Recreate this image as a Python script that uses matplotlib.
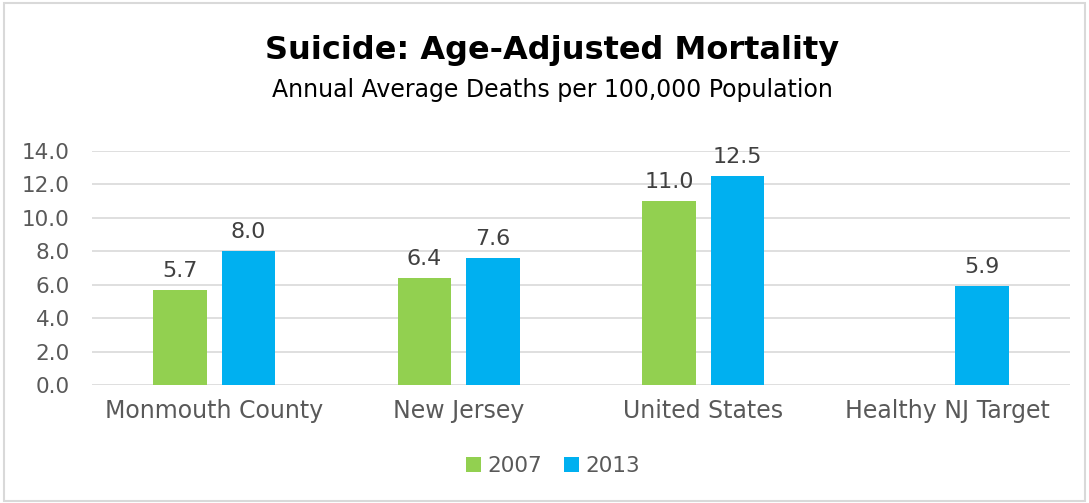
import matplotlib.pyplot as plt
import numpy as np
from matplotlib.patches import Rectangle

plt.rcParams['font.family'] = ['DejaVu Sans']

categories = ["Monmouth County", "New Jersey", "United States", "Healthy NJ Target"]
vals_2007 = [5.7, 6.4, 11.0, np.nan]
vals_2013 = [8.0, 7.6, 12.5, 5.9]
series_names = ["2007", "2013"]
colors = ["#92d050", "#00b0f0"]
yticks = [0.0, 2.0, 4.0, 6.0, 8.0, 10.0, 12.0, 14.0]

fig = plt.figure(figsize=(10.89, 5.03), dpi=100)
ax = fig.add_axes([0.0845, 0.2346, 0.898, 0.4652])

x = np.arange(len(categories))
w = 0.22
off = 0.14
gray = "#595959"

for vals, dx, c, name in zip([vals_2007, vals_2013], [-off, off], colors, series_names):
    bars = ax.bar(x + dx, vals, width=w, color=c, label=name, zorder=3)
    for xi, v in zip(x + dx, vals):
        if not np.isnan(v):
            ax.text(xi, v + 0.55, f"{v:.1f}", ha="center", va="bottom",
                    fontsize=16, color="#404040")

ax.set_xlim(-0.5, len(categories) - 0.5)
ax.set_ylim(0, 14)
ax.set_yticks(yticks)
ax.set_yticklabels([f"{t:.1f}" for t in yticks], fontsize=15.5, color=gray)
ax.set_xticks(x)
ax.set_xticklabels(categories, fontsize=17, color=gray)
ax.tick_params(axis="both", length=0)
ax.tick_params(axis="y", pad=16)
ax.tick_params(axis="x", pad=10)
ax.grid(axis="y", color="#d9d9d9", linewidth=1.2, zorder=0)
for s in ax.spines.values():
    s.set_visible(False)

fig.text(0.507, 0.90, "Suicide: Age-Adjusted Mortality", ha="center", va="center",
         fontsize=23, fontweight="bold", color="black")
fig.text(0.507, 0.822, "Annual Average Deaths per 100,000 Population", ha="center",
         va="center", fontsize=17, color="black")

fig.legend(loc="center", bbox_to_anchor=(0.508, 0.073), ncol=2, frameon=False,
           fontsize=15.5, handlelength=0.7, handleheight=0.7, handletextpad=0.3,
           columnspacing=1.0, labelcolor=gray)

fig.patches.append(Rectangle((0.004, 0.004), 0.992, 0.99, transform=fig.transFigure,
                             fill=False, edgecolor="#d9d9d9", linewidth=1.5))

fig.savefig("out.png", dpi=100)
